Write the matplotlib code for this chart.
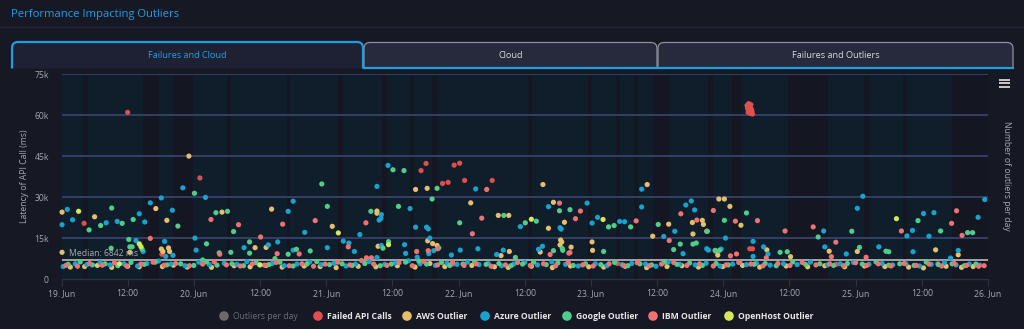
import numpy as np
import matplotlib
matplotlib.use("Agg")
import matplotlib.pyplot as plt
from matplotlib.path import Path
from matplotlib.patches import PathPatch

plt.rcParams['font.family'] = ['Open Sans', 'DejaVu Sans']

# ---------------- data (hours since 19 Jun 00:00, latency in thousands of ms) -------------
failed_h = [12.0, 25.1, 65.2, 66.1, 71.2, 72.2, 69.1, 70.1, 73.1, 78.1,
            124.3, 124.6, 125.0, 124.4, 124.7, 125.1, 124.5, 124.9, 125.3, 124.8, 125.2,
            124.8, 125.3, 18.2, 4.1, 44.6, 71.0, 100.8, 140.5, 158.9]
failed_v = [61.0, 37.0, 39.7, 42.3, 41.7, 42.4, 35.0, 35.4, 36.1, 36.1,
            63.5, 64.2, 63.8, 62.4, 61.8, 62.2, 61.0, 60.6, 60.4, 63.0, 61.4,
            11.1, 11.1, 9.1, 20.4, 5.8, 5.5, 5.7, 5.4, 5.6]

aws_h = [23.1, 17.1, 19.1, 6.0, 0.1, 0.1, 12.4, 18.1, 19.4, 18.4, 19.6, 29.1, 35.1, 37.1, 38.1,
         49.1, 57.2, 57.2, 57.4, 64.2, 66.3, 74.2, 79.2, 81.1, 66.4, 67.3, 68.1, 79.7, 81.2,
         87.3, 106.2, 89.2, 91.2, 88.3, 90.5, 90.7, 90.4, 92.4, 86.8, 96.2, 96.3, 107.2, 110.1,
         114.4, 116.2, 116.4, 117.0, 114.5, 119.2, 120.2, 121.2, 123.2, 118.6, 119.0, 127.9,
         132.2, 139.2, 144.3, 158.5, 162.6,
         1.6, 4.2, 6.5, 9.1, 12.0, 14.1, 18.3, 20.3, 22.8, 27.2, 31.3, 34.2, 37.1, 40.0, 44.0,
         46.9, 49.8, 53.8, 57.0, 60.9, 64.1, 66.8, 69.5, 74.4, 78.5, 81.0, 85.2, 89.0, 92.3,
         95.6, 98.3, 102.2, 106.1, 109.8, 112.5, 115.5, 119.9, 123.5, 126.6, 131.4, 135.3,
         138.4, 142.0, 145.6, 149.3, 153.6, 156.3, 160.4, 163.2, 165.3]
aws_v = [45.0, 25.8, 21.5, 22.8, 24.5, 9.8, 9.8, 11.0, 11.4, 10.1, 10.1, 24.5, 11.5, 11.6, 25.6,
         19.3, 24.9, 24.1, 12.0, 32.8, 33.2, 27.9, 23.3, 23.3, 14.0, 13.0, 12.3, 8.6, 10.1,
         34.6, 34.6, 28.1, 20.8, 18.6, 14.3, 13.6, 12.5, 11.7, 9.9, 13.6, 10.5, 15.7, 20.1,
         20.7, 21.5, 20.0, 17.5, 16.5, 29.3, 29.3, 26.6, 19.7, 10.3, 8.8, 10.7,
         8.2, 10.2, 10.1, 10.7, 8.9,
         4.4, 4.6, 5.0, 4.3, 4.7, 4.5, 4.6, 5.1, 4.4, 4.3, 4.9, 4.5, 5.0, 4.4, 4.8,
         4.6, 4.2, 4.7, 4.5, 4.9, 4.4, 5.7, 4.6, 5.0, 4.5, 4.3, 4.7, 4.2, 4.8,
         4.5, 4.4, 4.7, 4.2, 4.6, 4.9, 4.4, 4.6, 5.0, 4.4, 4.8, 4.5,
         4.9, 4.5, 4.8, 4.6, 4.4, 4.1, 4.7, 4.3, 4.6]

azure_h = [22.0, 26.1, 16.1, 18.1, 20.1, 14.1, 15.1, 10.1, 8.1, 2.0, 1.05, 0.1, 13.5, 14.8, 18.7,
           18.9, 20.2, 24.2, 24.4, 33.1, 37.5, 39.2, 41.1, 42.0, 42.0, 44.1, 48.2, 51.1, 52.1,
           53.1, 54.1, 57.2, 59.2, 75.1, 63.2, 58.0, 57.6, 57.9, 64.2, 66.2, 66.5, 66.8, 66.6,
           67.5, 62.2, 62.4, 64.5, 58.0, 57.2, 70.7, 72.3, 75.5, 80.1, 78.9, 83.2, 105.2, 105.2,
           88.3, 95.3, 90.4, 90.6, 87.2, 86.5, 97.2, 96.2, 101.2, 102.1, 109.2, 111.2, 113.2,
           114.2, 114.8, 112.7, 117.0, 117.3, 119.6, 120.4, 125.4, 125.4, 145.3, 144.3, 167.4,
           166.2, 158.2, 156.3, 157.3, 154.3, 153.3, 138.2, 148.2, 154.4, 162.6, 161.2, 127.3,
           128.1, 138.4, 142.3,
           0.3, 2.5, 4.6, 7.0, 8.8, 11.3, 13.8, 15.5, 17.6, 19.8, 22.4, 24.9, 26.8, 29.5, 31.8,
           33.6, 35.9, 38.2, 40.4, 42.7, 45.0, 47.1, 49.4, 51.6, 53.3, 55.8, 58.6, 60.5, 62.9,
           65.0, 67.8, 69.9, 71.7, 73.6, 75.7, 77.4, 79.8, 82.0, 84.0, 86.3, 88.9, 91.4, 93.7,
           96.8, 98.9, 101.6, 103.4, 105.9, 107.8, 110.0, 112.1, 114.9, 116.9, 119.4, 121.7,
           124.2, 126.0, 128.5, 130.9, 133.4, 135.8, 138.9, 141.2, 143.6, 146.4, 148.8, 150.7,
           153.1, 155.6, 157.7, 160.1, 162.2, 164.6, 166.5]
azure_v = [33.4, 29.9, 27.9, 29.7, 25.2, 23.9, 20.9, 21.1, 20.6, 21.7, 25.5, 19.9, 14.1, 10.1, 13.8,
           8.3, 8.7, 15.0, 10.6, 11.5, 12.5, 13.6, 24.8, 28.5, 10.6, 17.1, 11.5, 13.9, 13.2,
           10.1, 16.3, 33.9, 41.6, 33.0, 25.8, 23.6, 21.6, 22.2, 19.0, 19.0, 18.4, 15.0, 9.3,
           10.4, 12.6, 9.4, 8.0, 12.3, 7.9, 8.8, 10.6, 11.1, 10.6, 9.0, 19.2, 32.9, 26.4,
           26.5, 27.8, 18.8, 18.3, 12.0, 10.9, 22.6, 20.5, 21.1, 21.0, 15.6, 17.5, 27.1,
           28.6, 25.3, 9.3, 11.1, 10.6, 11.0, 15.0, 13.8, 8.3, 30.3, 25.9, 29.1,
           22.6, 24.3, 24.0, 15.7, 17.8, 15.8, 17.6, 11.8, 10.0, 10.5, 7.7, 11.8,
           9.2, 11.8, 9.2,
           4.6, 5.6, 5.3, 6.1, 5.2, 5.6, 4.8, 5.7, 6.6, 5.5, 4.9, 6.2, 5.3, 5.8, 5.4,
           6.4, 5.2, 5.7, 4.9, 5.5, 6.3, 5.3, 5.8, 4.8, 5.5, 6.4, 5.4, 5.9, 6.7,
           5.6, 5.0, 5.8, 5.4, 6.2, 5.3, 5.7, 4.9, 5.5, 6.1, 5.2, 6.3, 5.4, 4.8,
           5.6, 4.9, 5.3, 5.7, 5.5, 4.7, 6.2, 5.4, 5.2, 5.8, 4.8, 5.5,
           5.3, 5.8, 5.1, 5.6, 5.3, 6.2, 5.2, 5.6, 6.1, 5.4, 5.7, 5.2,
           5.6, 4.8, 5.4, 6.0, 5.2, 5.5, 5.1]

google_h = [24.1, 21.1, 13.0, 11.0, 7.1, 5.0, 9.1, 12.2, 12.4, 12.8, 14.6, 9.0, 26.3, 25.6, 28.0,
            30.1, 31.2, 34.1, 34.1, 38.7, 28.6, 30.7, 41.1, 47.2, 48.2, 45.1, 42.6, 60.1, 62.1,
            68.1, 67.2, 61.1, 56.1, 80.2, 72.2, 84.1, 68.4, 58.3, 59.3, 82.3, 90.3, 92.2, 86.1,
            90.8, 90.9, 89.2, 99.2, 100.2, 103.2, 98.3, 108.2, 112.2, 111.0, 114.5, 115.1,
            117.1, 118.5, 119.3, 120.2, 124.2, 137.2, 143.3, 144.7, 149.5, 150.0, 155.3, 159.4,
            164.3, 165.2, 130.3, 131.6,
            1.2, 3.4, 5.6, 7.9, 10.2, 12.6, 15.0, 17.0, 19.1, 21.6, 24.0, 26.3, 28.2, 30.9, 33.0,
            35.3, 37.6, 39.6, 42.0, 44.5, 46.3, 48.6, 50.9, 52.7, 55.0, 57.8, 59.8, 62.4, 64.8,
            66.2, 68.9, 70.4, 72.8, 74.9, 77.0, 79.3, 81.5, 83.6, 85.6, 87.9, 90.0, 92.8, 95.0,
            97.8, 100.3, 102.7, 104.9, 107.0, 109.3, 111.6, 113.9, 116.2, 118.7, 120.9, 123.0,
            125.6, 127.6, 129.6, 132.6, 134.9, 137.5, 140.0, 142.5, 145.2, 147.7, 150.0, 152.0,
            154.6, 156.8, 159.0, 161.5, 163.7, 165.8]
google_v = [31.4, 19.4, 21.8, 20.4, 19.6, 18.0, 26.0, 14.5, 11.8, 11.8, 11.0, 11.3, 12.9, 7.0, 24.3,
            24.8, 17.4, 13.6, 9.5, 7.5, 9.6, 9.8, 9.1, 34.8, 26.6, 10.3, 10.9, 40.0, 39.7,
            33.2, 29.3, 26.6, 24.8, 23.3, 20.6, 20.6, 11.4, 11.3, 13.7, 7.9, 25.0, 25.4, 21.2,
            11.2, 10.5, 10.4, 19.1, 19.6, 19.1, 10.1, 20.0, 12.8, 10.8, 12.8, 13.2,
            17.5, 10.5, 10.5, 21.5, 24.2, 15.4, 17.5, 11.6, 10.2, 10.0, 21.4, 17.6,
            17.0, 17.0, 9.8, 10.0,
            5.4, 6.3, 5.2, 5.6, 4.9, 6.1, 5.4, 6.2, 5.2, 5.6, 5.0, 6.3, 5.1, 5.6, 4.9,
            6.0, 5.3, 6.2, 4.8, 5.5, 6.4, 5.3, 5.6, 5.0, 5.7, 4.9, 5.5, 6.2, 6.6,
            5.5, 6.1, 5.0, 5.5, 6.4, 5.4, 5.7, 4.9, 5.5, 6.2, 5.3, 5.9, 5.0, 5.6,
            5.3, 6.1, 4.9, 5.6, 5.2, 6.2, 5.4, 5.9, 5.0, 5.7, 5.2, 6.1,
            5.4, 5.7, 4.9, 6.3, 5.4, 5.6, 5.0, 5.7, 5.5, 6.3, 5.1, 5.6,
            5.0, 6.2, 5.3, 5.6, 4.9, 5.5]

ibm_h = [16.1, 27.1, 32.1, 36.1, 39.1, 40.1, 28.7, 46.0, 43.1, 52.0, 55.2, 55.3, 56.2, 64.4, 68.2,
         66.5, 74.5, 76.2, 77.1, 88.6, 90.3, 92.0, 92.2, 93.2, 94.1, 104.2, 110.2, 112.3, 115.2,
         118.2, 122.2, 121.3, 122.4, 126.2, 131.2, 127.8, 136.3, 140.4, 139.6, 145.9, 152.3,
         161.4, 162.3, 163.3,
         0.8, 2.9, 5.1, 7.4, 9.6, 11.8, 14.4, 16.6, 18.6, 20.7, 23.2, 25.6, 27.7, 29.9, 32.4,
         34.6, 36.8, 38.9, 41.3, 43.6, 45.7, 47.8, 50.1, 52.3, 54.4, 56.6, 59.0, 61.2, 63.6,
         65.7, 68.2, 70.9, 73.0, 75.2, 77.9, 80.5, 82.7, 85.0, 87.4, 89.6, 91.9, 94.5, 96.4,
         99.3, 101.9, 104.4, 106.6, 108.8, 111.0, 113.4, 115.7, 118.2, 120.5, 122.8, 125.0,
         127.2, 129.9, 132.1, 134.3, 136.8, 139.3, 141.8, 144.0, 146.0, 148.1, 150.4, 152.8,
         155.0, 157.3, 159.6, 161.9, 164.1, 166.3, 167.3]
ibm_v = [14.9, 21.8, 19.9, 15.4, 9.3, 20.1, 9.1, 21.4, 9.2, 11.8, 20.6, 7.8, 7.8, 10.1, 11.1,
         10.4, 16.6, 22.3, 32.8, 9.0, 27.8, 9.5, 9.7, 22.1, 24.9, 21.3, 14.1, 23.9, 21.6,
         25.1, 21.2, 8.5, 9.2, 21.4, 17.6, 7.8, 19.1, 13.5, 8.2, 8.0, 17.6,
         20.4, 25.0, 16.0,
         5.0, 4.7, 5.7, 5.1, 6.0, 4.8, 5.5, 6.2, 5.1, 5.7, 4.9, 5.5, 6.3, 5.2, 4.8,
         5.6, 5.1, 6.1, 4.9, 5.6, 4.7, 5.5, 6.2, 5.2, 6.8, 5.5, 5.0, 6.0, 4.9,
         6.5, 5.2, 6.1, 5.0, 5.6, 4.7, 5.2, 6.1, 5.0, 5.6, 4.9, 6.0, 5.2, 4.8,
         5.6, 5.0, 6.0, 4.9, 5.5, 6.1, 5.0, 5.6, 4.8, 5.2, 6.1, 5.5,
         4.9, 5.7, 5.0, 6.1, 5.2, 5.6, 4.9, 6.0, 5.0, 5.6, 4.8, 5.7,
         5.0, 5.5, 4.8, 5.7, 5.0, 4.7, 4.9]

openhost_h = [3.1, 14.1, 14.4, 50.2, 59.3, 85.2, 98.2, 151.4, 10.5, 36.0]
openhost_v = [24.8, 12.9, 11.9, 16.9, 12.6, 21.9, 21.8, 22.1, 5.6, 5.2]

median_ms = 6842
y_ticks = [0, 15000, 30000, 45000, 60000, 75000]
y_tick_labels = ["0", "15k", "30k", "45k", "60k", "75k"]
x_ticks = [0, 12, 24, 36, 48, 60, 72, 84, 96, 108, 120, 132, 144, 156, 168]
x_tick_labels = ["19. Jun", "12:00", "20. Jun", "12:00", "21. Jun", "12:00", "22. Jun", "12:00",
                 "23. Jun", "12:00", "24. Jun", "12:00", "25. Jun", "12:00", "26. Jun"]
# darker background bands (start hour, end hour)
band_start = [-0.6, 3.9, 14.8, 20.2, 30.0, 40.9, 50.2, 58.1, 63.2, 67.2, 84.6, 95.5, 100.6, 103.8,
              107.3, 117.3, 121.5, 131.8, 145.6, 152.6, 161.4]
band_end = [0.0, 4.8, 17.7, 23.9, 30.7, 41.5, 51.1, 59.0, 63.9, 68.1, 85.3, 96.2, 101.3, 104.6,
            110.2, 118.2, 123.3, 139.0, 146.5, 153.4, 168.1]

series_names = ["Outliers per day", "Failed API Calls", "AWS Outlier", "Azure Outlier",
                "Google Outlier", "IBM Outlier", "OpenHost Outlier"]
series_colors = ["#6b6b6b", "#e04e4e", "#e6bf6c", "#16a3cf", "#4dcf8a", "#f07173", "#d5e858"]

# ---------------- figure ----------------
W, H = 1024, 329
BG = "#161824"
fig = plt.figure(figsize=(W / 100, H / 100), dpi=100, facecolor=BG)

# overlay in pixel coordinates
ov = fig.add_axes([0, 0, 1, 1], zorder=0)
ov.set_xlim(0, W)
ov.set_ylim(H, 0)
ov.axis("off")
ov.set_facecolor("none")

ov.text(11, 14, "Performance Impacting Outliers", color="#1e9ee6", fontsize=8.1,
        va="center", ha="left")
ov.plot([0, W], [26.5, 26.5], color="#232738", lw=1)


def tab_path(x0, x1, y0, y1, r=6):
    verts = [(x0, y1), (x0, y0 + r), (x0, y0), (x0 + r, y0), (x1 - r, y0), (x1, y0),
             (x1, y0 + r), (x1, y1)]
    codes = [Path.MOVETO, Path.LINETO, Path.CURVE3, Path.CURVE3, Path.LINETO, Path.CURVE3,
             Path.CURVE3, Path.LINETO]
    return Path(verts, codes)


ov.add_patch(PathPatch(tab_path(364, 657, 42.5, 68), facecolor="#262a3c", edgecolor="#8e919c", lw=0.9))
ov.add_patch(PathPatch(tab_path(658, 1013, 42.5, 68), facecolor="#262a3c", edgecolor="#8e919c", lw=0.9))
ov.plot([363, 1013.5], [67.6, 67.6], color="#1b9fe4", lw=1.6, solid_capstyle="butt")
ov.add_patch(PathPatch(tab_path(12, 363, 42, 68.5), facecolor="#1e2133", edgecolor="#1b9fe4", lw=1.6))
ov.text(187.5, 55.5, "Failures and Cloud", color="#1e9ee6", fontsize=6.6, ha="center", va="center")
ov.text(510.5, 55.5, "Cloud", color="#d8d9de", fontsize=6.6, ha="center", va="center")
ov.text(835.5, 55.5, "Failures and Outliers", color="#d8d9de", fontsize=6.6, ha="center", va="center")

# hamburger icon
for yy in (79.5, 83, 86.5):
    ov.plot([998.5, 1009.5], [yy, yy], color="#d6d6d6", lw=1.3, solid_capstyle="butt")

ov.text(25, 176, "Latency of API Call (ms)", color="#a6a8b0", fontsize=6.2, rotation=90,
        ha="center", va="center")
ov.text(1006, 176, "Number of outliers per day", color="#a6a8b0", fontsize=6.2, rotation=-90,
        ha="center", va="center")

# legend
leg_marker_x = [224, 318, 407, 485, 567, 653, 729]
for name, col, mx in zip(series_names, series_colors, leg_marker_x):
    ov.scatter([mx], [316], s=48, color=col, edgecolors="none")
    ov.text(mx + 9, 316.5, name, color=("#6b6e78" if name == "Outliers per day" else "#e6e6e6"),
            fontsize=6.2, fontweight=("normal" if name == "Outliers per day" else "bold"),
            ha="left", va="center")

# main plot
ax = fig.add_axes([61.5 / W, (H - 279.1) / H, (988 - 61.5) / W, (279.1 - 74.1) / H], zorder=1)
ax.set_facecolor("#101e2c")
ax.set_xlim(0, 168)
ax.set_ylim(0, 75000)
for s, e in zip(band_start, band_end):
    ax.axvspan(s, e, color="#141721", lw=0, zorder=0)
for yt in y_ticks[1:]:
    ax.axhline(yt, color="#3e4977", lw=1.1, zorder=1)
ax.axhline(median_ms, color="#c9c9c9", lw=1.1, zorder=1.5)
ax.text(1.3, median_ms + 900, "Median: 6842 ms", color="#a9aab0", fontsize=6.2, ha="left",
        va="bottom", zorder=5)

series_h = [failed_h, aws_h, azure_h, google_h, ibm_h, openhost_h]
series_v = [failed_v, aws_v, azure_v, google_v, ibm_v, openhost_v]
for hh, vv, col in zip(series_h, series_v, series_colors[1:]):
    ax.scatter(hh, np.array(vv) * 1000, s=14, color=col, edgecolors="none", zorder=3, clip_on=False)

ax.set_yticks(y_ticks)
ax.set_yticklabels(y_tick_labels)
ax.set_xticks(x_ticks)
ax.set_xticklabels(x_tick_labels)
ax.tick_params(axis="y", length=0, pad=9, labelsize=6.2, labelcolor="#a6a8b0")
ax.tick_params(axis="x", length=5, width=0.8, color="#2c3142", pad=2, labelsize=6.2,
               labelcolor="#a6a8b0")
for side in ("top", "right", "left"):
    ax.spines[side].set_visible(False)
ax.spines["bottom"].set_color("#2c3142")
ax.spines["bottom"].set_linewidth(1)

fig.savefig("out.png", dpi=100, facecolor=BG)
